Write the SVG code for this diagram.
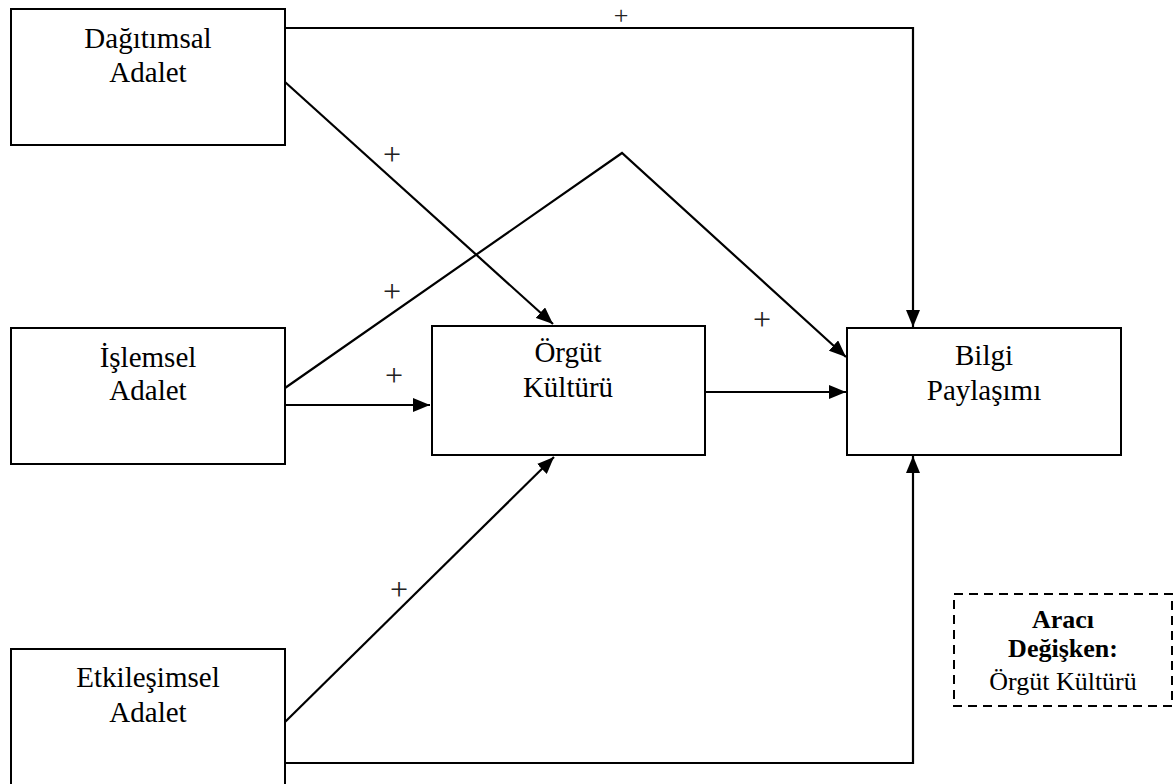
<svg xmlns="http://www.w3.org/2000/svg" width="1174" height="784" viewBox="0 0 1174 784">
<style>
.box{fill:#fff;stroke:#000;stroke-width:2}
.dash{fill:#fff;stroke:#000;stroke-width:2;stroke-dasharray:9,6}
.t{font-family:"Liberation Serif","Times New Roman",serif;font-size:29px;fill:#000;text-anchor:middle}
.s{font-family:"Liberation Serif","Times New Roman",serif;font-size:26px;fill:#000;text-anchor:middle}
.b{font-weight:bold}
.p{font-family:"Liberation Serif","Times New Roman",serif;font-size:32px;fill:#222;text-anchor:middle}
.c{fill:none;stroke:#000;stroke-width:2.2}
</style>
<defs>
<marker id="ah" markerWidth="18" markerHeight="14" refX="17" refY="7" orient="auto" markerUnits="userSpaceOnUse">
<path d="M0,0 L17,7 L0,14 Z" fill="#000"/>
</marker>
</defs>
<g id="connectors">
<path class="c" d="M285,28 H913 V327" marker-end="url(#ah)"/>
<path class="c" d="M285,82 L553,324" marker-end="url(#ah)"/>
<path class="c" d="M285,388 L622,153 L846,357" marker-end="url(#ah)"/>
<path class="c" d="M285,405 H430" marker-end="url(#ah)"/>
<path class="c" d="M705,392 H846" marker-end="url(#ah)"/>
<path class="c" d="M285,722 L554,457" marker-end="url(#ah)"/>
<path class="c" d="M285,763 H913 V456" marker-end="url(#ah)"/>
</g>
<g id="labels">
<text class="p" x="621" y="24" style="font-size:26px">+</text>
<text class="p" x="392" y="165">+</text>
<text class="p" x="392" y="302">+</text>
<text class="p" x="394" y="386">+</text>
<text class="p" x="762" y="330">+</text>
<text class="p" x="399" y="600">+</text>
</g>
<g id="dagitimsal">
<rect class="box" x="11" y="9" width="274" height="136"/>
<text class="t" x="148" y="48">Dağıtımsal</text>
<text class="t" x="148" y="82">Adalet</text>
</g>
<g id="islemsel">
<rect class="box" x="11" y="328" width="274" height="136"/>
<text class="t" x="148" y="367">İşlemsel</text>
<text class="t" x="148" y="400">Adalet</text>
</g>
<g id="etkilesimsel">
<rect class="box" x="11" y="649" width="274" height="150"/>
<text class="t" x="148" y="687">Etkileşimsel</text>
<text class="t" x="148" y="722">Adalet</text>
</g>
<g id="orgut">
<rect class="box" x="432" y="326" width="273" height="129"/>
<text class="t" x="568" y="362">Örgüt</text>
<text class="t" x="568" y="397">Kültürü</text>
</g>
<g id="bilgi">
<rect class="box" x="847" y="328" width="274" height="127"/>
<text class="t" x="984" y="365">Bilgi</text>
<text class="t" x="984" y="400">Paylaşımı</text>
</g>
<g id="araci">
<rect class="dash" x="954" y="594" width="218" height="112"/>
<text class="s b" x="1063" y="628">Aracı</text>
<text class="s b" x="1063" y="657">Değişken:</text>
<text class="s" x="1063" y="690">Örgüt Kültürü</text>
</g>
</svg>
